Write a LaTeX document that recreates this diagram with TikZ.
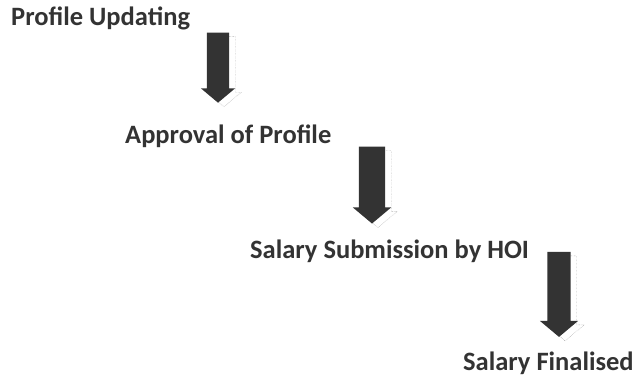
\documentclass[tikz,border=0pt]{standalone}
\usepackage{fontspec}
\setmainfont{Carlito}
\usetikzlibrary{shapes.arrows}

\definecolor{inkgray}{HTML}{333333}

\tikzset{
  step label/.style={anchor=base west, inner sep=0pt, text=inkgray,
    font=\bfseries\fontsize{26.5}{30}\selectfont},
  down arrow/.style={single arrow, rotate=-90, draw=none, fill=inkgray,
    inner xsep=0pt, minimum width=0pt, single arrow tip angle=100},
  arrow shade/.style={single arrow, rotate=-90, draw=black!45, densely dotted,
    inner xsep=0pt, minimum width=0pt, single arrow tip angle=100}
}

\begin{document}
\begin{tikzpicture}[x=1pt, y=1pt]
  \useasboundingbox (0,0) rectangle (636,378);

  % the four steps
  \node[step label] (s1) at (11,352) {Profile Updating};
  \node[step label] (s2) at (125,235) {Approval of Profile};
  \node[step label] (s3) at (250,120) {Salary Submission by HOI};
  \node[step label] (s4) at (463,8) {Salary Finalised};

  % arrows with their dotted shade
  \node[arrow shade, minimum height=70pt, inner ysep=11pt, single arrow head extend=6pt] (h1) at (224,311) {};
  \node[down arrow, minimum height=70pt, inner ysep=11pt, single arrow head extend=6pt] (a1) at (218,315) {};
  \node[arrow shade, minimum height=77pt, inner ysep=13pt, single arrow head extend=6pt] (h2) at (378,194.5) {};
  \node[down arrow, minimum height=77pt, inner ysep=13pt, single arrow head extend=6pt] (a2) at (372,198.5) {};
  \node[arrow shade, minimum height=85pt, inner ysep=11.5pt, single arrow head extend=7.5pt] (h3) at (565,84.5) {};
  \node[down arrow, minimum height=85pt, inner ysep=11.5pt, single arrow head extend=7.5pt] (a3) at (559,88.5) {};
\end{tikzpicture}
\end{document}
